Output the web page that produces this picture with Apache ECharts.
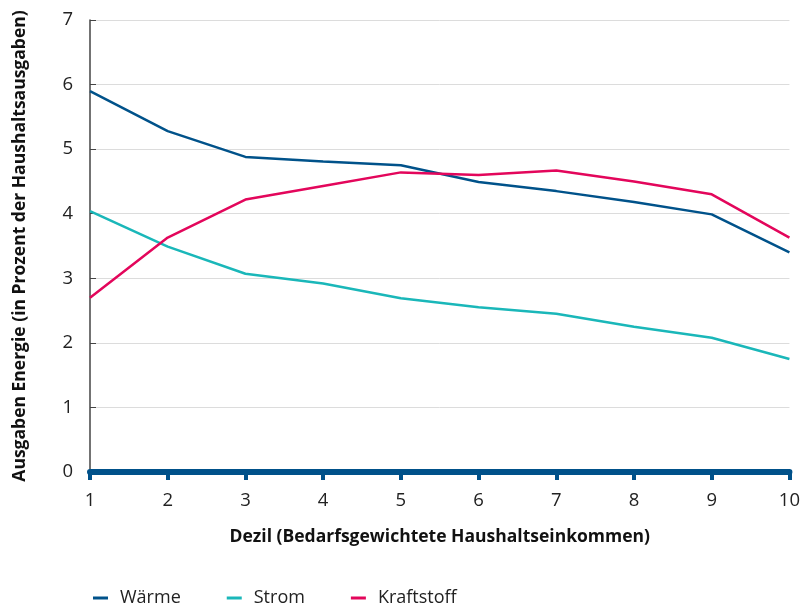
<!DOCTYPE html>
<html>
<head>
<meta charset="utf-8">
<script src="https://cdn.jsdelivr.net/npm/echarts@6/dist/echarts.min.js"></script>
<style>
	html, body { margin: 0; padding: 0; background: #fff; }
	#chart { width: 803px; height: 605px; }
</style>
</head>
<body>
<div id="chart"></div>
<script>
// Dezile
const deciles = ['1', '2', '3', '4', '5', '6', '7', '8', '9', '10']
// Ausgabenanteile in Prozent
const waerme = [5.9, 5.28, 4.88, 4.81, 4.75, 4.49, 4.35, 4.18, 3.99, 3.4]
const strom = [4.04, 3.49, 3.07, 2.92, 2.69, 2.55, 2.45, 2.25, 2.08, 1.75]
const kraftstoff = [2.7, 3.63, 4.22, 4.43, 4.64, 4.6, 4.67, 4.5, 4.3, 3.63]

const font = '"Open Sans", "Noto Sans", sans-serif'

const chart = echarts.init(document.getElementById('chart'))

const lineSeries = (name, data, color) => ({
	name: name,
	type: 'line',
	data: data,
	symbol: 'none',
	lineStyle: { color: color, width: 2.5 },
	itemStyle: { color: color },
})

chart.setOption({
	animation: false,
	textStyle: { fontFamily: font },
	grid: { left: 90, right: 12, top: 20, bottom: 133 },
	legend: {
		left: 88,
		top: 584,
		icon: 'rect',
		itemWidth: 15,
		itemHeight: 3,
		itemGap: 46,
		textStyle: { fontFamily: font, fontSize: 18, color: '#222', padding: [0, 0, 0, 7] },
		data: ['Wärme', 'Strom', 'Kraftstoff'],
	},
	xAxis: {
		type: 'category',
		data: deciles,
		boundaryGap: false,
		name: 'Dezil (Bedarfsgewichtete Haushaltseinkommen)',
		nameLocation: 'middle',
		nameGap: 56,
		nameTextStyle: { fontFamily: font, fontSize: 17.5, fontWeight: 'bold', color: '#111' },
		axisLine: { lineStyle: { color: '#00518a', width: 6 } },
		axisTick: { show: true, length: 8, lineStyle: { color: '#00518a', width: 4 } },
		axisLabel: { fontSize: 18.5, color: '#222', margin: 19 },
		splitLine: { show: false },
		z: 10,
	},
	yAxis: {
		type: 'value',
		min: 0,
		max: 7,
		interval: 1,
		name: 'Ausgaben Energie (in Prozent der Haushaltsausgaben)',
		nameLocation: 'middle',
		nameGap: 61,
		nameTextStyle: { fontFamily: font, fontSize: 17.5, fontWeight: 'bold', color: '#111' },
		axisLine: { show: true, lineStyle: { color: '#444', width: 1.5 } },
		axisTick: { show: true, inside: true, length: 6, lineStyle: { color: '#444' } },
		axisLabel: { fontSize: 18.5, color: '#222', margin: 17 },
		splitLine: { lineStyle: { color: '#dcdcdc', width: 1 } },
	},
	series: [
		lineSeries('Wärme', waerme, '#00528a'),
		lineSeries('Strom', strom, '#1ab7b9'),
		lineSeries('Kraftstoff', kraftstoff, '#e3065b'),
	],
})
</script>
</body>
</html>
